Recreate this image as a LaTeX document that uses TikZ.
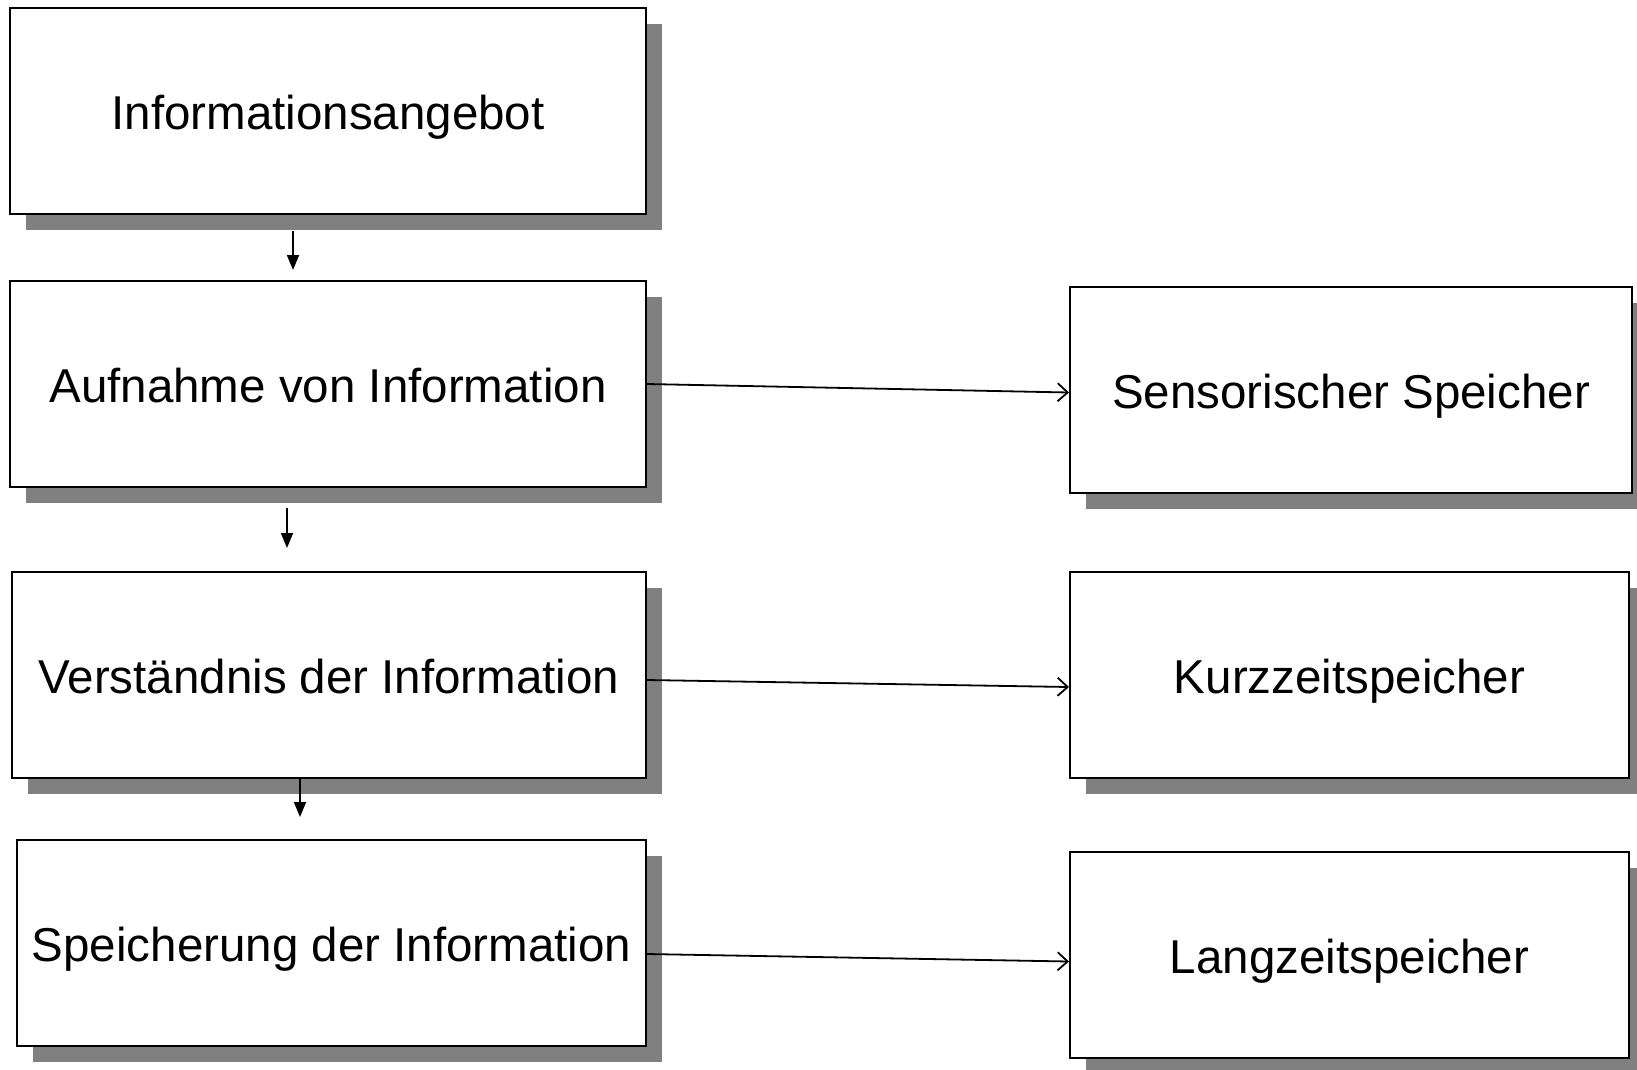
\documentclass[tikz,border=0pt]{standalone}
\usepackage{fontspec}
\setmainfont{Liberation Sans}
\usetikzlibrary{shadows,arrows.meta}
\definecolor{shadowgray}{HTML}{808080}
\begin{document}
\begin{tikzpicture}[x=1pt,y=-1pt,
  box/.style={draw=black,line width=2pt,fill=white,inner sep=0pt,
    minimum height=206pt,text height=37pt,text depth=0pt,
    font=\fontsize{47.5pt}{54pt}\selectfont,
    general shadow={fill=shadowgray,shadow xshift=16pt,shadow yshift=-16pt}},
  down/.style={line width=1.8pt,-{Triangle[length=15pt,width=12pt]}},
  across/.style={line width=1.8pt,-{Straight Barb[length=10pt,width=18pt,line width=1.8pt]}}]
\useasboundingbox (0,0) rectangle (1637,1069);
\clip (0,0) rectangle (1637,1069);
\fill[white] (0,0) rectangle (1637,1069);

% left column: processing steps
\node[box,minimum width=636pt] (b1) at (328,111) {Informationsangebot};
\node[box,minimum width=636pt] (b2) at (328,384) {Aufnahme von Information};
\node[box,minimum width=634pt] (b3) at (329,675) {Verständnis der Information};
\node[box,minimum width=629pt] (b4) at (331.5,943) {Speicherung der Information};

% right column: memory stores
\node[box,minimum width=562pt] (s1) at (1351,390) {Sensorischer Speicher};
\node[box,minimum width=559pt] (s2) at (1349.5,675) {Kurzzeitspeicher};
\node[box,minimum width=559pt] (s3) at (1349.5,955) {Langzeitspeicher};

% vertical flow arrows
\coordinate (a1s) at (293,231);
\coordinate (a1e) at (293,270);
\coordinate (a2s) at (287,508);
\coordinate (a2e) at (287,548);
\coordinate (a3s) at (300,778);
\coordinate (a3e) at (300,817);
\draw[down] (a1s) -- (a1e);
\draw[down] (a2s) -- (a2e);
\draw[down] (a3s) -- (a3e);

% horizontal arrows to the stores
\draw[across] (b2.east) -- ([yshift=-2.5pt]s1.west);
\draw[across] ([yshift=-5pt]b3.east) -- ([yshift=-12pt]s2.west);
\draw[across] ([yshift=-11pt]b4.east) -- ([yshift=-6.5pt]s3.west);
\end{tikzpicture}
\end{document}
